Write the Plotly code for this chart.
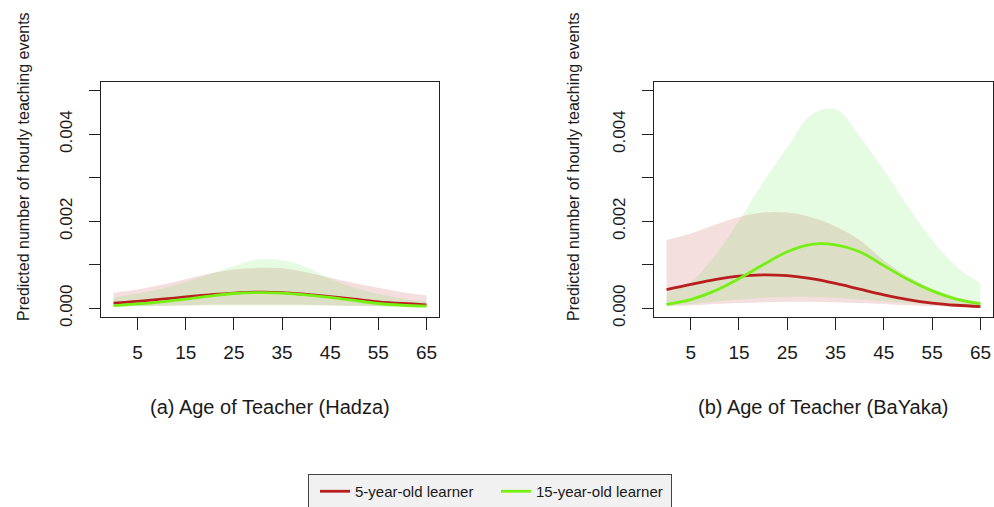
import plotly.graph_objects as go

# ---------------- data ----------------
ages = [0, 5, 10, 15, 20, 25, 30, 35, 40, 45, 50, 55, 60, 65]

# (a) Hadza
hadza_5_mean  = [0.00012, 0.00016, 0.00021, 0.00026, 0.00031, 0.00035, 0.00037, 0.00036, 0.00032, 0.00027, 0.00021, 0.00015, 0.00011, 0.00008]
hadza_5_upper = [0.00036, 0.00043, 0.00054, 0.00067, 0.00080, 0.00089, 0.00093, 0.00092, 0.00083, 0.00070, 0.00058, 0.00047, 0.00037, 0.00030]
hadza_5_lower = [0.00004, 0.00005, 0.00006, 0.00007, 0.00008, 0.00008, 0.00008, 0.00008, 0.00008, 0.00007, 0.00006, 0.00005, 0.00004, 0.00004]
hadza_15_mean  = [0.00006, 0.00010, 0.00015, 0.00021, 0.00028, 0.00034, 0.00036, 0.00035, 0.00031, 0.00025, 0.00018, 0.00011, 0.00007, 0.00005]
hadza_15_upper = [0.00025, 0.00034, 0.00045, 0.00060, 0.00078, 0.00097, 0.00112, 0.00110, 0.00095, 0.00068, 0.00048, 0.00033, 0.00022, 0.00015]
hadza_15_lower = [0.00003, 0.00004, 0.00005, 0.00006, 0.00007, 0.00007, 0.00007, 0.00007, 0.00007, 0.00006, 0.00005, 0.00004, 0.00003, 0.00003]

# (b) BaYaka
bayaka_5_mean  = [0.00043, 0.00055, 0.00066, 0.00074, 0.00077, 0.00075, 0.00068, 0.00057, 0.00044, 0.00031, 0.00020, 0.00012, 0.00007, 0.00004]
bayaka_5_upper = [0.00157, 0.00172, 0.00192, 0.00210, 0.00220, 0.00220, 0.00209, 0.00188, 0.00157, 0.00110, 0.00073, 0.00045, 0.00025, 0.00015]
bayaka_5_lower = [0.00005, 0.00007, 0.00010, 0.00012, 0.00014, 0.00015, 0.00015, 0.00014, 0.00012, 0.00010, 0.00007, 0.00005, 0.00003, 0.00002]
bayaka_15_mean  = [0.00009, 0.00020, 0.00040, 0.00068, 0.00100, 0.00130, 0.00147, 0.00146, 0.00130, 0.00098, 0.00066, 0.00040, 0.00021, 0.00010]
bayaka_15_upper = [0.00035, 0.00060, 0.00120, 0.00200, 0.00290, 0.00370, 0.00445, 0.00458, 0.00395, 0.00318, 0.00234, 0.00157, 0.00096, 0.00057]
bayaka_15_lower = [0.00006, 0.00010, 0.00015, 0.00020, 0.00024, 0.00026, 0.00026, 0.00024, 0.00020, 0.00016, 0.00012, 0.00009, 0.00006, 0.00004]

x_ticks = [5, 15, 25, 35, 45, 55, 65]
y_ticks = [0.000, 0.001, 0.002, 0.003, 0.004, 0.005]
y_tick_text = ["0.000", "", "0.002", "", "0.004", ""]

series_names = ["5-year-old learner", "15-year-old learner"]
x_titles = ["(a) Age of Teacher (Hadza)", "(b) Age of Teacher (BaYaka)"]
y_title = "Predicted number of hourly teaching events"

# ---------------- styles ----------------
RED = "#B91E1E"
GREEN = "#76F012"
RED_FILL = "rgba(178,34,34,0.15)"
GREEN_FILL = "rgba(50,230,20,0.12)"
W, H = 994, 507
FONT = "Liberation Sans, Arial, Helvetica, sans-serif"
TXT = "#1a1a1a"

fig = go.Figure()

panels = [
    ("x", "y", hadza_5_mean, hadza_5_upper, hadza_5_lower, hadza_15_mean, hadza_15_upper, hadza_15_lower),
    ("x2", "y2", bayaka_5_mean, bayaka_5_upper, bayaka_5_lower, bayaka_15_mean, bayaka_15_upper, bayaka_15_lower),
]

for pi, (xa, ya, m5, u5, l5, m15, u15, l15) in enumerate(panels):
    for lo, up, fillc in [(l5, u5, RED_FILL), (l15, u15, GREEN_FILL)]:
        fig.add_trace(go.Scatter(x=ages, y=lo, mode="lines", line=dict(width=0, shape="spline"),
                                 xaxis=xa, yaxis=ya, showlegend=False, hoverinfo="skip"))
        fig.add_trace(go.Scatter(x=ages, y=up, mode="lines", line=dict(width=0, shape="spline"),
                                 fill="tonexty", fillcolor=fillc,
                                 xaxis=xa, yaxis=ya, showlegend=False, hoverinfo="skip"))
    for mean, col, name in [(m5, RED, series_names[0]), (m15, GREEN, series_names[1])]:
        fig.add_trace(go.Scatter(x=ages, y=mean, mode="lines", name=name,
                                 line=dict(color=col, width=2.8, shape="spline"),
                                 xaxis=xa, yaxis=ya, showlegend=(pi == 0)))

def px_x(p):
    return p / W

def px_y(p):
    return 1 - p / H

x_dom = [[px_x(101), px_x(439)], [px_x(654), px_x(993)]]
y_dom = [px_y(317), px_y(82)]

common_x = dict(range=[-2.6, 67.6], tickmode="array", tickvals=x_ticks,
                ticks="outside", ticklen=12, tickwidth=1, tickcolor="#222",
                showline=True, linecolor="#222", linewidth=1, mirror=True,
                showgrid=False, zeroline=False, ticklabelstandoff=6,
                tickfont=dict(family=FONT, size=19, color=TXT))
common_y = dict(range=[-0.0002, 0.0052], tickmode="array", tickvals=y_ticks, ticktext=y_tick_text,
                ticks="outside", ticklen=11, tickwidth=1, tickcolor="#222",
                showline=True, linecolor="#222", linewidth=1, mirror=True,
                showgrid=False, zeroline=False, tickangle=-90, ticklabelstandoff=10,
                tickfont=dict(family=FONT, size=17, color=TXT))

fig.update_layout(
    width=W, height=H,
    margin=dict(l=0, r=0, t=0, b=0, autoexpand=False),
    paper_bgcolor="white", plot_bgcolor="white",
    xaxis=dict(domain=x_dom[0], anchor="y", **common_x),
    yaxis=dict(domain=y_dom, anchor="x", **common_y),
    xaxis2=dict(domain=x_dom[1], anchor="y2", **common_x),
    yaxis2=dict(domain=y_dom, anchor="x2", **common_y),
    legend=dict(orientation="h", x=px_x(308), y=px_y(474), xanchor="left", yanchor="top",
                bgcolor="#f1f1f1", bordercolor="#444", borderwidth=1,
                font=dict(family=FONT, size=15, color=TXT), traceorder="normal",
                entrywidth=130, entrywidthmode="pixels", itemwidth=30, indentation=6),
    showlegend=True,
)

annotations = []
for i, (cx, ycx) in enumerate([(270, 23), (823, 573)]):
    annotations.append(dict(text=x_titles[i], x=px_x(cx), y=px_y(407), xref="paper", yref="paper",
                            showarrow=False, xanchor="center", yanchor="middle",
                            font=dict(family=FONT, size=20, color=TXT)))
    annotations.append(dict(text=y_title, x=px_x(ycx), y=px_y(167), xref="paper", yref="paper",
                            showarrow=False, xanchor="center", yanchor="middle", textangle=-90,
                            font=dict(family=FONT, size=16, color=TXT)))
fig.update_layout(annotations=annotations)

fig.write_html("out.html", config={"displayModeBar": False},
               post_script="document.body.style.margin='0';document.body.style.overflow='hidden';")
